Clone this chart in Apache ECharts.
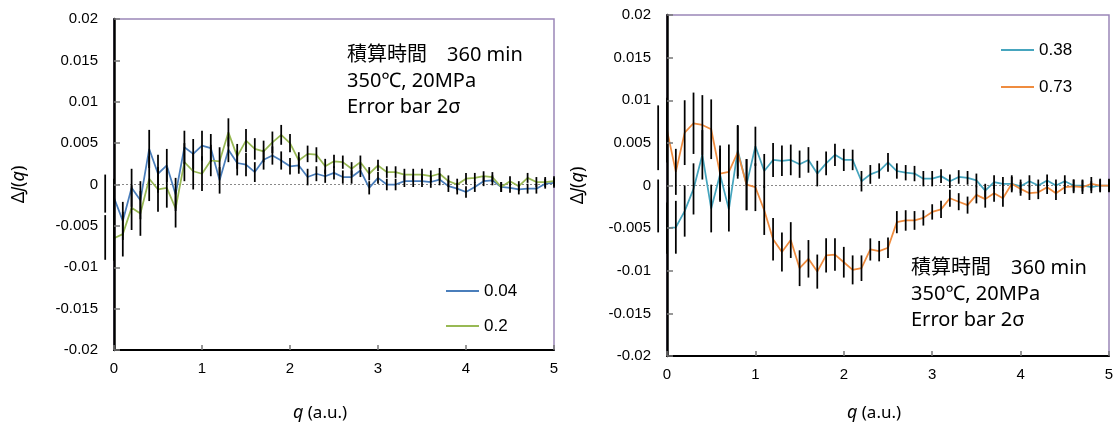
<!DOCTYPE html>
<html><head><meta charset="utf-8">
<script src="https://cdn.jsdelivr.net/npm/echarts@6/dist/echarts.min.js"></script>
<style>html,body{margin:0;padding:0;background:#fff}#c{width:1117px;height:435px}</style>
</head><body><div id="c"></div>
<script>
// q positions (a.u.); the first point (-0.1) lies left of the axis: its line is clipped, its error bar is not (as in Excel)
const Q = [-0.1,0,0.1,0.2,0.3,0.4,0.5,0.6,0.7,0.8,0.9,1.0,1.1,1.2,1.3,1.4,1.5,1.6,1.7,1.8,1.9,2.0,2.1,2.2,2.3,2.4,2.5,2.6,2.7,2.8,2.9,3.0,3.1,3.2,3.3,3.4,3.5,3.6,3.7,3.8,3.9,4.0,4.1,4.2,4.3,4.4,4.5,4.6,4.7,4.8,4.9,5.0];

// Left panel
const V_004 = [-0.0011,-0.0016,-0.0044,-0.0004,-0.0019,0.0043,0.0013,0.0023,-0.0012,0.0045,0.0037,0.0047,0.0044,0.0005,0.0042,0.0026,0.0024,0.0015,0.0030,0.0035,0.0029,0.0022,0.0023,0.0009,0.0013,0.0010,0.0014,0.0009,0.0009,0.0017,-0.0004,0.0008,0.0000,0.0000,0.0004,0.0004,0.0004,0.0003,0.0006,-0.0002,-0.0005,-0.0009,-0.0003,0.0004,0.0005,-0.0003,-0.0004,-0.0006,-0.0005,-0.0005,0.0001,0.0002];
const E_004 = [0.0023,0.0023,0.0023,0.0023,0.0023,0.0023,0.0023,0.0020,0.0020,0.0020,0.0018,0.0018,0.0017,0.0016,0.0015,0.0015,0.0014,0.0012,0.0012,0.0011,0.0011,0.0010,0.0010,0.0010,0.0009,0.0008,0.0008,0.0008,0.0008,0.0008,0.0008,0.0007,0.0007,0.0007,0.0007,0.0007,0.0007,0.0007,0.0007,0.0007,0.0007,0.0007,0.0006,0.0006,0.0006,0.0006,0.0006,0.0006,0.0006,0.0006,0.0006,0.0006];
const V_02 = [-0.0064,-0.0065,-0.0060,-0.0028,-0.0035,0.0007,-0.0006,-0.0004,-0.0029,0.0027,0.0016,0.0013,0.0029,0.0028,0.0063,0.0034,0.0053,0.0043,0.0040,0.0051,0.0060,0.0050,0.0029,0.0037,0.0036,0.0022,0.0028,0.0027,0.0019,0.0027,0.0013,0.0023,0.0015,0.0015,0.0012,0.0012,0.0012,0.0010,0.0013,0.0004,0.0000,0.0007,0.0008,0.0010,0.0009,-0.0003,0.0004,-0.0002,0.0008,0.0003,0.0003,0.0004];
const E_02 = [0.0027,0.0027,0.0027,0.0027,0.0027,0.0027,0.0027,0.0024,0.0023,0.0023,0.0022,0.0021,0.0019,0.0017,0.0017,0.0015,0.0014,0.0013,0.0013,0.0013,0.0012,0.0011,0.0010,0.0010,0.0009,0.0009,0.0008,0.0008,0.0008,0.0008,0.0008,0.0007,0.0007,0.0007,0.0007,0.0007,0.0007,0.0007,0.0007,0.0007,0.0007,0.0007,0.0006,0.0006,0.0006,0.0006,0.0006,0.0006,0.0006,0.0006,0.0006,0.0006];

// Right panel
const V_038 = [-0.0024,-0.0050,-0.0049,-0.0030,-0.0004,0.0036,-0.0027,0.0013,-0.0028,0.0041,0.0001,0.0046,0.0017,0.0030,0.0029,0.0030,0.0025,0.0030,0.0014,0.0026,0.0036,0.0030,0.0030,0.0005,0.0013,0.0017,0.0027,0.0017,0.0015,0.0014,0.0008,0.0008,0.0011,0.0005,0.0010,0.0009,0.0006,-0.0006,0.0004,0.0002,0.0002,-0.0001,0.0005,0.0000,0.0006,0.0000,0.0005,0.0000,0.0000,-0.0002,0.0000,0.0000];
const E_038 = [0.0031,0.0030,0.0031,0.0030,0.0030,0.0029,0.0028,0.0030,0.0026,0.0030,0.0030,0.0023,0.0020,0.0020,0.0018,0.0018,0.0016,0.0015,0.0015,0.0014,0.0013,0.0013,0.0012,0.0012,0.0011,0.0009,0.0011,0.0009,0.0009,0.0009,0.0009,0.0009,0.0008,0.0008,0.0008,0.0008,0.0008,0.0008,0.0008,0.0008,0.0008,0.0008,0.0007,0.0007,0.0007,0.0007,0.0007,0.0007,0.0007,0.0007,0.0007,0.0007];
const V_073 = [0.0056,0.0065,0.0016,0.0062,0.0073,0.0071,0.0066,0.0014,0.0016,0.0039,0.0001,-0.0002,-0.0029,-0.0063,-0.0078,-0.0064,-0.0097,-0.0086,-0.0101,-0.0082,-0.0081,-0.0090,-0.0099,-0.0097,-0.0075,-0.0077,-0.0073,-0.0043,-0.0041,-0.0041,-0.0038,-0.0031,-0.0028,-0.0015,-0.0019,-0.0023,-0.0011,-0.0016,-0.0009,-0.0015,0.0002,-0.0004,-0.0009,-0.0008,-0.0002,-0.0009,-0.0002,-0.0001,-0.0002,0.0002,0.0000,0.0000];
const E_073 = [0.0038,0.0038,0.0027,0.0038,0.0036,0.0035,0.0035,0.0033,0.0032,0.0031,0.0030,0.0028,0.0029,0.0025,0.0023,0.0021,0.0021,0.0022,0.0020,0.0020,0.0019,0.0018,0.0017,0.0015,0.0013,0.0012,0.0012,0.0013,0.0012,0.0011,0.0009,0.0009,0.0010,0.0010,0.0010,0.0010,0.0010,0.0010,0.0010,0.0010,0.0010,0.0008,0.0008,0.0008,0.0008,0.0008,0.0008,0.0008,0.0008,0.0008,0.0008,0.0008];

const X_TICK = {min: 0, max: 5, interval: 1};
const Y_TICK = {min: -0.02, max: 0.02, interval: 0.005};
const NOTE = ['積算時間　360 min', '350℃, 20MPa', 'Error bar 2σ'];

const LAT = '"Liberation Sans", Arial, sans-serif';
const JP = '"Noto Sans", "Noto Sans CJK JP", sans-serif';

function xAx(gi, shiftPad, gap) {
  return {
    type: 'value', gridIndex: gi, min: X_TICK.min, max: X_TICK.max, interval: X_TICK.interval, z: 5,
    axisLine: {show: true, onZero: false, lineStyle: {color: '#000', width: 2}},
    axisTick: {show: true, inside: true, length: 5, lineStyle: {color: '#777', width: 1.5}},
    axisLabel: {color: '#000', fontSize: 15, margin: 11, fontFamily: LAT},
    splitLine: {show: false},
    name: '{i|q} (a.u.)', nameLocation: 'middle', nameGap: gap,
    nameTextStyle: {color: '#000', fontSize: 17, fontFamily: JP, padding: [0, shiftPad, 0, 0],
      rich: {i: {fontStyle: 'italic', fontSize: 18, fontFamily: JP}}}
  };
}
function yAx(gi, gap) {
  return {
    type: 'value', gridIndex: gi, min: Y_TICK.min, max: Y_TICK.max, interval: Y_TICK.interval, z: 5,
    axisLine: {show: true, lineStyle: {color: '#000', width: 2.5}},
    axisTick: {show: true, inside: true, length: 6, lineStyle: {color: '#777', width: 1.5}},
    axisLabel: {color: '#000', fontSize: 15, margin: 16, fontFamily: LAT},
    splitLine: {show: false},
    name: 'Δ{i|J}({i|q})', nameLocation: 'middle', nameGap: gap, nameRotate: 90,
    nameTextStyle: {color: '#000', fontSize: 18, fontFamily: JP,
      rich: {i: {fontStyle: 'italic', fontSize: 18, fontFamily: JP}}}
  };
}
function lineS(name, gi, vals, color, zero) {
  const s = {
    name, type: 'line', xAxisIndex: gi, yAxisIndex: gi, clip: true, symbol: 'none',
    data: Q.map((q, i) => [q, vals[i]]),
    lineStyle: {color, width: 1.75}, itemStyle: {color}, z: 3, silent: true
  };
  if (zero) s.markLine = {silent: true, symbol: ['none', 'none'], label: {show: false},
    lineStyle: {type: [2, 2], color: '#888', width: 1}, data: [{yAxis: 0}], z: 1};
  return s;
}
function errS(gi, vals, errs) {
  return {
    type: 'custom', xAxisIndex: gi, yAxisIndex: gi, z: 4, silent: true, clip: false,
    data: Q.map((q, i) => [q, vals[i] - errs[i], vals[i] + errs[i]]),
    encode: {x: 0, y: [1, 2]},
    renderItem(params, api) {
      const lo = api.coord([api.value(0), api.value(1)]);
      const hi = api.coord([api.value(0), api.value(2)]);
      return {type: 'line', shape: {x1: lo[0], y1: lo[1], x2: hi[0], y2: hi[1]},
        style: {stroke: '#000', lineWidth: 1.75}};
    }
  };
}
function notes(x, y0) {
  return NOTE.map((t, i) => ({type: 'text', x: x, y: y0 + i * 26, z: 10,
    style: {text: t, fontSize: 20, fontFamily: JP, fill: '#000', verticalAlign: 'middle', align: 'left'}}));
}

const C = {b: '#4a7ebb', g: '#98b954', t: '#46a5be', o: '#ef8c3f'};

const chart = echarts.init(document.getElementById('c'), null, {renderer: 'canvas'});
chart.setOption({
  backgroundColor: '#fff',
  animation: false,
  grid: [
    {left: 114, top: 19, width: 440, height: 331, show: true, z: 0, borderColor: '#9a86b8', borderWidth: 1.5, backgroundColor: 'transparent'},
    {left: 667, top: 15, width: 442, height: 341, show: true, z: 0, borderColor: '#9a86b8', borderWidth: 1.5, backgroundColor: 'transparent'}
  ],
  xAxis: [xAx(0, 28, 54), xAx(1, 28, 48)],
  yAxis: [yAx(0, 86), yAx(1, 80)],
  legend: [
    {data: ['0.04', '0.2'], orient: 'vertical', left: 441, top: 276, itemWidth: 33, itemHeight: 2, icon: 'rect', itemGap: 15,
      textStyle: {fontSize: 17, fontFamily: LAT, color: '#000', lineHeight: 20}},
    {data: ['0.38', '0.73'], orient: 'vertical', left: 996, top: 35, itemWidth: 33, itemHeight: 2, icon: 'rect', itemGap: 17,
      textStyle: {fontSize: 17, fontFamily: LAT, color: '#000', lineHeight: 20}}
  ],
  graphic: [...notes(347, 55), ...notes(911, 268)],
  series: [
    lineS('0.04', 0, V_004, C.b, true),
    lineS('0.2', 0, V_02, C.g, false),
    errS(0, V_004, E_004),
    errS(0, V_02, E_02),
    lineS('0.38', 1, V_038, C.t, true),
    lineS('0.73', 1, V_073, C.o, false),
    errS(1, V_038, E_038),
    errS(1, V_073, E_073)
  ]
});
</script></body></html>
